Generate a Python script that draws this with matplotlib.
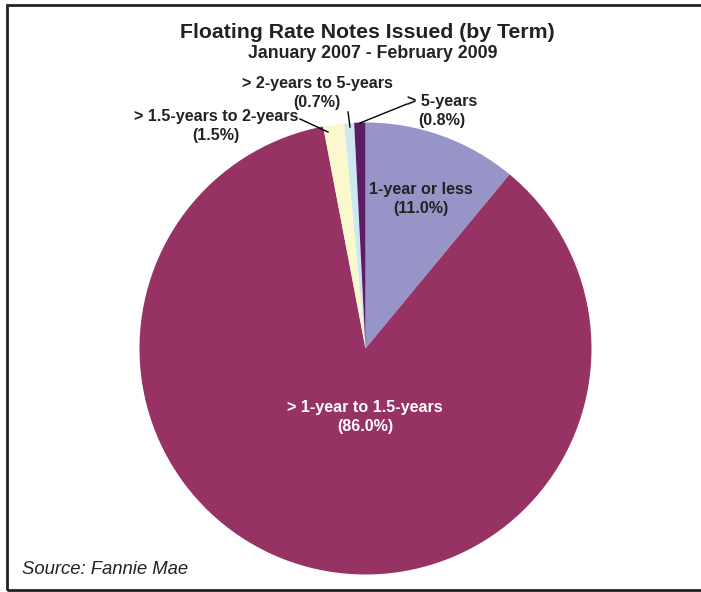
import matplotlib
matplotlib.use("Agg")
import matplotlib.pyplot as plt
from matplotlib.patches import Rectangle

plt.rcParams['font.family'] = ['Liberation Sans', 'DejaVu Sans']

# Share of floating rate notes issued, by term
categories = ["1-year or less", "> 1-year to 1.5-years", "> 1.5-years to 2-years",
              "> 2-years to 5-years", "> 5-years"]
shares = [11.0, 86.0, 1.5, 0.7, 0.8]
colors = ["#9794C8", "#973265", "#FAF8CD", "#CDE8F1", "#5E1B66"]

W, H = 701, 592
fig = plt.figure(figsize=(W / 100, H / 100), dpi=100)
ax = fig.add_axes([0, 0, 1, 1])

def py(y):
    # pixel row measured from the top -> data y
    return H - y

cx, cy, r = 365.5, py(348.5), 226

wedges, _ = ax.pie(shares, colors=colors, startangle=90, counterclock=False,
                   center=(cx, cy), radius=r, frame=True,
                   wedgeprops=dict(linewidth=0))
ax.set_xlim(0, W)
ax.set_ylim(0, H)
ax.set_aspect('equal')
ax.axis('off')

txt = "#222222"
ax.text(367, py(33), "Floating Rate Notes Issued (by Term)", ha='center', va='center',
        fontsize=15.3, fontweight='bold', color=txt)
ax.text(373, py(54), "January 2007 - February 2009", ha='center', va='center',
        fontsize=12.8, fontweight='bold', color=txt)

def lab(i):
    return f"{categories[i]}\n({shares[i]:.1f}%)"

lkw = dict(ha='center', va='center', fontsize=11.6, fontweight='bold', linespacing=1.4)
ax.text(421, py(199), lab(0), color=txt, **lkw)
ax.text(365, py(417), lab(1), color='white', **lkw)
ax.text(216, py(126), lab(2), color=txt, **lkw)
ax.text(317, py(93), lab(3), color=txt, **lkw)
ax.text(442, py(111), lab(4), color=txt, **lkw)

# leader lines
ax.plot([300, 328], [py(119), py(132)], color='black', lw=1)
ax.plot([348, 350], [py(112), py(127)], color='black', lw=1)
ax.plot([407, 360], [py(104), py(123)], color='black', lw=1)

ax.text(22, py(570), "Source: Fannie Mae", ha='left', va='center', fontsize=13.3,
        fontstyle='italic', color=txt)

# outer frame
ax.add_patch(Rectangle((7, py(590)), W + 20, 585, fill=False, edgecolor='#222222',
                       linewidth=2, clip_on=False))

fig.savefig("out.png", dpi=100)
